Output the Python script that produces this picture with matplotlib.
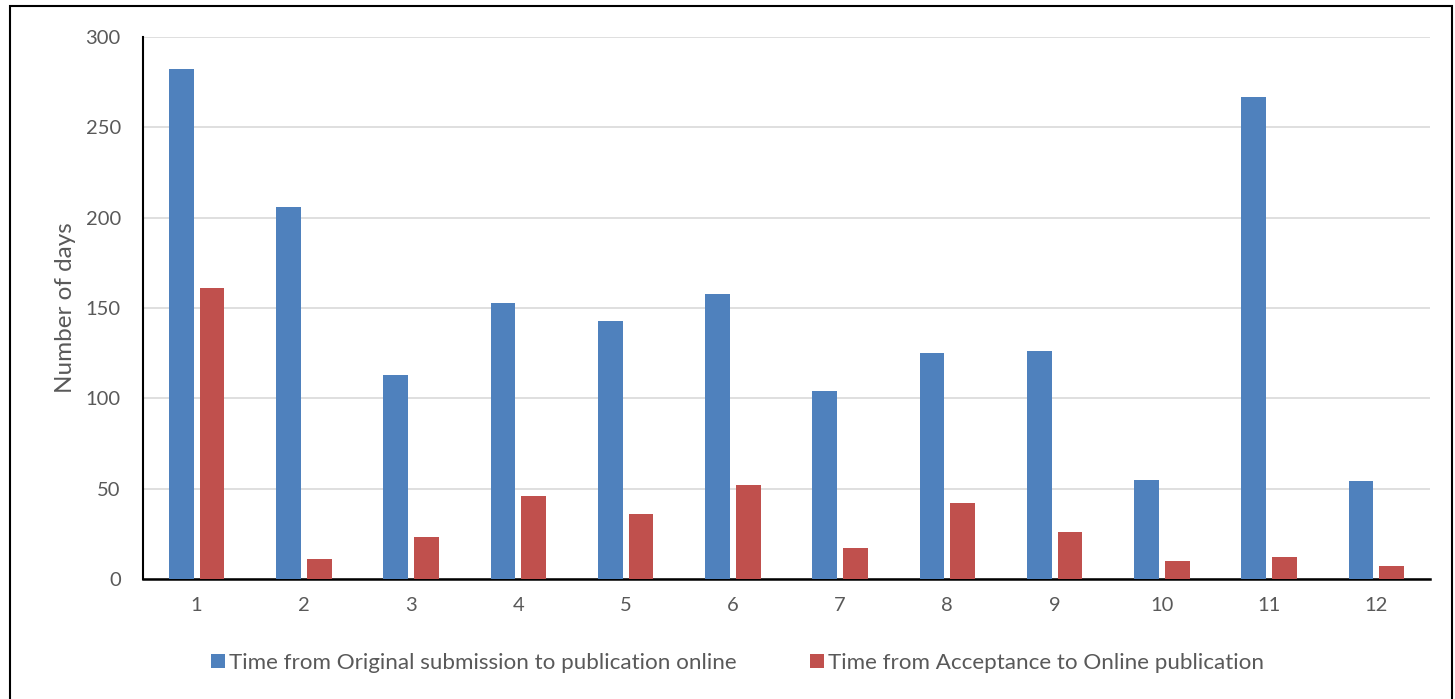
import matplotlib
matplotlib.use("Agg")
import matplotlib.pyplot as plt
import numpy as np
from matplotlib.patches import Rectangle

# data
groups = [1, 2, 3, 4, 5, 6, 7, 8, 9, 10, 11, 12]
submission_to_online = [282, 206, 113, 153, 143, 158, 104, 125, 126, 55, 267, 54]
acceptance_to_online = [161, 11, 23, 46, 36, 52, 17, 42, 26, 10, 12, 7]
series_names = ["Time from Original submission to publication online",
                "Time from Acceptance to Online publication"]

plt.rcParams['font.family'] = ['Lato', 'DejaVu Sans']
text_col = '#595959'

fig = plt.figure(figsize=(14.55, 6.99), dpi=100)
ax = fig.add_axes([0.0983, 0.1717, 0.8845, 0.7754])

x = np.arange(len(groups)) + 1
w = 0.23
off = 0.143
ax.bar(x - off, submission_to_online, w, color='#4F81BD', label=series_names[0], zorder=3)
ax.bar(x + off, acceptance_to_online, w, color='#C0504D', label=series_names[1], zorder=3)

ax.set_xlim(0.5, 12.5)
ax.set_ylim(0, 300)
ax.set_yticks(range(0, 301, 50))
ax.set_xticks(x)
ax.set_xticklabels([str(g) for g in groups])
ax.grid(axis='y', color='#D9D9D9', linewidth=1.2, zorder=0)
ax.set_axisbelow(True)

for s in ['top', 'right']:
    ax.spines[s].set_visible(False)
ax.spines['left'].set_linewidth(1.5)
ax.spines['bottom'].set_linewidth(1.8)
ax.tick_params(axis='both', length=0, labelsize=14.5, labelcolor=text_col)
ax.tick_params(axis='y', pad=16)
ax.tick_params(axis='x', pad=13)

ax.set_ylabel("Number of days", fontsize=17.5, color=text_col, labelpad=7)

leg = fig.legend(loc='center', bbox_to_anchor=(0.507, 0.0515), ncol=2, frameon=False,
                 fontsize=16.1, handlelength=0.6, handleheight=0.6, handletextpad=0.2,
                 columnspacing=3.3)
for t in leg.get_texts():
    t.set_color(text_col)

# outer frame
fig.patches.append(Rectangle((10 / 1455, -0.01), 1442 / 1455, 1 - 6 / 699 + 0.01,
                             transform=fig.transFigure, fill=False,
                             edgecolor='black', linewidth=1.5))

fig.savefig("out.png", dpi=100)
